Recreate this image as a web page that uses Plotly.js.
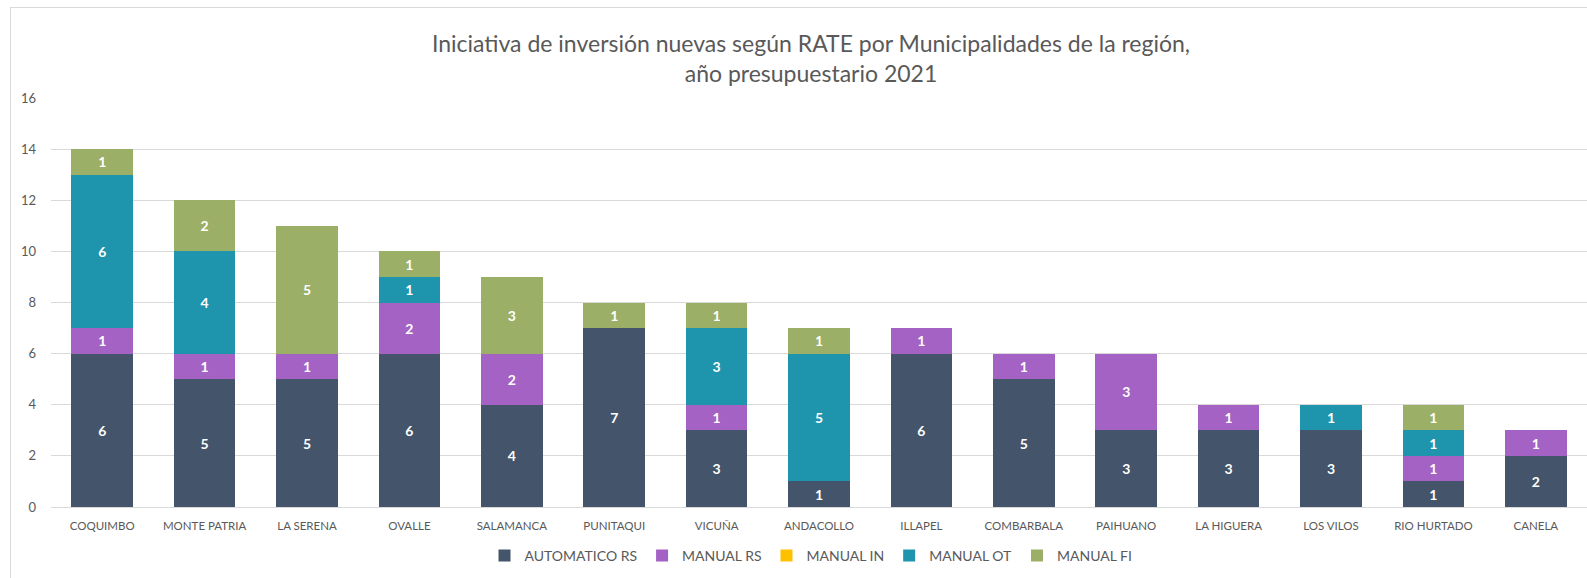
<!DOCTYPE html>
<html>
<head>
<meta charset="utf-8">
<script src="https://cdn.plot.ly/plotly-3.0.1.min.js"></script>
<style>
  html, body { margin: 0; padding: 0; background: #fff; overflow: hidden; }
  #wrap { position: relative; width: 1587px; height: 578px; }
  #chart { position: absolute; left: 0; top: 0; width: 1587px; height: 578px; }
  #frame { position: absolute; left: 10px; top: 7px; width: 1600px; height: 600px; border: 1px solid #d9d9d9; pointer-events: none; }
</style>
</head>
<body>
<div id="wrap"><div id="chart"></div><div id="frame"></div></div>
<script>
const categories = ["COQUIMBO", "MONTE PATRIA", "LA SERENA", "OVALLE", "SALAMANCA", "PUNITAQUI", "VICUÑA", "ANDACOLLO", "ILLAPEL", "COMBARBALA", "PAIHUANO", "LA HIGUERA", "LOS VILOS", "RIO HURTADO", "CANELA"];
const automaticoRS = [6, 5, 5, 6, 4, 7, 3, 1, 6, 5, 3, 3, 3, 1, 2];
const manualRS     = [1, 1, 1, 2, 2, 0, 1, 0, 1, 1, 3, 1, 0, 1, 1];
const manualIN     = [0, 0, 0, 0, 0, 0, 0, 0, 0, 0, 0, 0, 0, 0, 0];
const manualOT     = [6, 4, 0, 1, 0, 0, 3, 5, 0, 0, 0, 0, 1, 1, 0];
const manualFI     = [1, 2, 5, 1, 3, 1, 1, 1, 0, 0, 0, 0, 0, 1, 0];
const seriesNames  = ["AUTOMATICO RS", "MANUAL RS", "MANUAL IN", "MANUAL OT", "MANUAL FI"];
const seriesColors = ["#44546A", "#A463C4", "#FFC000", "#1F94AD", "#9BAF67"];
const titleText = "Iniciativa de inversión nuevas según RATE por Municipalidades de la región,<br>año presupuestario 2021";

const FONT = "Lato, 'Open Sans', sans-serif";
const seriesValues = [automaticoRS, manualRS, manualIN, manualOT, manualFI];
const traces = seriesValues.map((vals, i) => ({
  type: "bar",
  name: seriesNames[i],
  x: categories,
  y: vals,
  text: vals.map(v => v ? String(v) : ""),
  textposition: "inside",
  insidetextanchor: "middle",
  constraintext: "none",
  textfont: { family: FONT, size: 14, color: "#ffffff", weight: 700 },
  marker: { color: seriesColors[i] },
  hoverinfo: "x+y+name"
}));

const layout = {
  width: 1587, height: 578,
  barmode: "stack",
  bargap: 0.4,
  paper_bgcolor: "rgba(0,0,0,0)",
  plot_bgcolor: "rgba(0,0,0,0)",
  margin: { l: 51, r: 0, t: 98, b: 71, pad: 0 },
  font: { family: FONT, color: "#595959" },
  title: {
    text: titleText,
    font: { family: FONT, size: 23, color: "#595959" },
    x: 811 / 1587, xanchor: "center", xref: "container",
    y: 1 - 52 / 578, yanchor: "top", yref: "container"
  },
  xaxis: {
    type: "category",
    tickfont: { family: FONT, size: 11.5, color: "#595959" },
    showgrid: false, zeroline: false,
    showline: true, linecolor: "#d9d9d9", linewidth: 1,
    ticks: "", ticklabelstandoff: 8,
    fixedrange: true
  },
  yaxis: {
    range: [0, 16], dtick: 2, tick0: 0,
    tickfont: { family: FONT, size: 13, color: "#595959" },
    showgrid: true, gridcolor: "#d9d9d9", gridwidth: 1,
    zeroline: false, showline: false,
    ticks: "", ticklabelstandoff: 14,
    fixedrange: true
  },
  legend: {
    orientation: "h",
    x: (811 - 51) / 1536, xanchor: "center",
    y: -(556 - 507) / 409, yanchor: "middle",
    font: { family: FONT, size: 14, color: "#595959" },
    traceorder: "normal",
    itemwidth: 30
  },
  showlegend: true
};

Plotly.newPlot("chart", traces, layout, { displayModeBar: false, staticPlot: true });
</script>
</body>
</html>
